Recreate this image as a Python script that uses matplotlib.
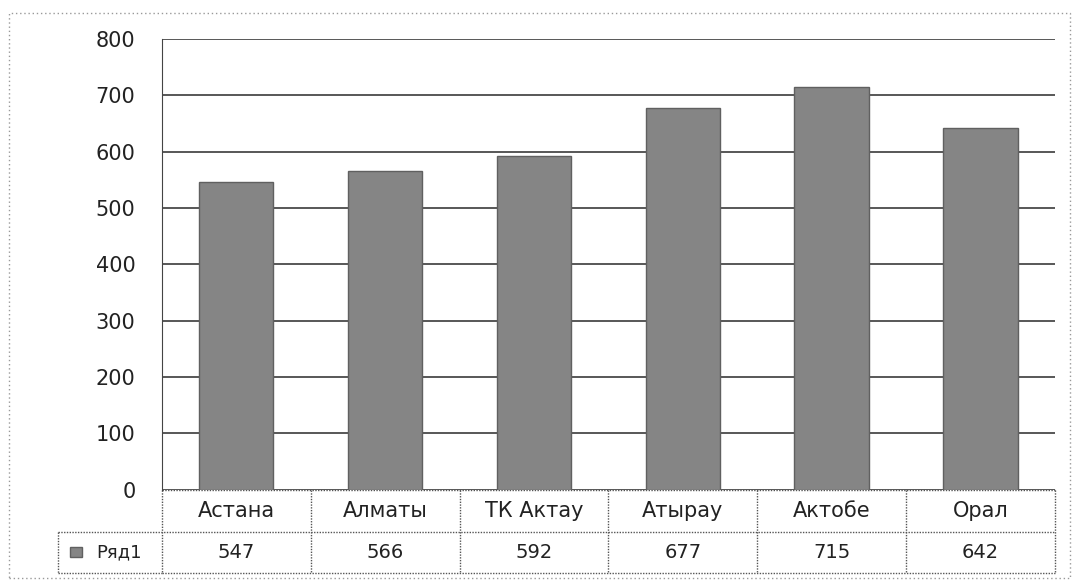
import matplotlib.pyplot as plt
import matplotlib.transforms as mtransforms
from matplotlib.patches import Rectangle

cities = ['Астана', 'Алматы', 'ТК Актау', 'Атырау', 'Актобе', 'Орал']
values = [547, 566, 592, 677, 715, 642]
series_name = 'Ряд1'
yticks = [0, 100, 200, 300, 400, 500, 600, 700, 800]

plt.rcParams['font.family'] = ['DejaVu Sans']

fig = plt.figure(figsize=(10.72, 5.81), dpi=100)
ax = fig.add_axes([0.151, 0.157, 0.833, 0.776])

x = list(range(len(cities)))
ax.bar(x, values, width=0.5, color='#858585', edgecolor='#606060', linewidth=1, zorder=3)

ax.set_xlim(-0.5, len(cities) - 0.5)
ax.set_ylim(0, 800)
ax.set_yticks(yticks)
ax.set_yticklabels([str(v) for v in yticks], fontsize=15, color='#222222')
ax.tick_params(axis='y', length=0, pad=19)
ax.set_xticks([])
ax.grid(axis='y', color='#2a2a2a', linewidth=1.1, zorder=0)

for side in ['top', 'right', 'bottom']:
    ax.spines[side].set_visible(False)
ax.spines['left'].set_color('#444444')

# data table under the chart (x in data units, y in axes units)
trans = mtransforms.blended_transform_factory(ax.transData, ax.transAxes)
row1 = -0.093   # bottom of category row
row2 = -0.184   # bottom of value row
label_left = -0.1165
line_kw = dict(color='#555555', linewidth=1, linestyle=(0, (1, 1)), clip_on=False)

ax.plot([-0.5, len(cities) - 0.5], [0, 0], transform=trans, **line_kw)
ax.plot([-0.5, len(cities) - 0.5], [row2, row2], transform=trans, **line_kw)
ax.plot([label_left, 1], [row1, row1], transform=ax.transAxes, **line_kw)
ax.plot([label_left, 0], [row2, row2], transform=ax.transAxes, **line_kw)
ax.plot([label_left, label_left], [row1, row2], transform=ax.transAxes, **line_kw)
for i in range(len(cities) + 1):
    ax.plot([i - 0.5, i - 0.5], [0, row2], transform=trans, **line_kw)

for i, (city, val) in enumerate(zip(cities, values)):
    ax.text(i, row1 / 2, city, transform=trans, ha='center', va='center',
            fontsize=15, color='#222222')
    ax.text(i, (row1 + row2) / 2, str(val), transform=trans, ha='center', va='center',
            fontsize=14, color='#222222')

ax.text(-0.074, (row1 + row2) / 2, series_name, transform=ax.transAxes,
        ha='left', va='center', fontsize=13, color='#222222')
ax.add_patch(Rectangle((-0.103, -0.149), 0.013, 0.022, transform=ax.transAxes,
                       facecolor='#858585', edgecolor='#606060', clip_on=False))

# dotted frame around the whole picture
fig.patches.append(Rectangle((0.008, 0.005), 0.99, 0.973, transform=fig.transFigure,
                             fill=False, edgecolor='#999999', linestyle=(0, (1, 2)),
                             linewidth=1))

fig.savefig('out.png', dpi=100)
